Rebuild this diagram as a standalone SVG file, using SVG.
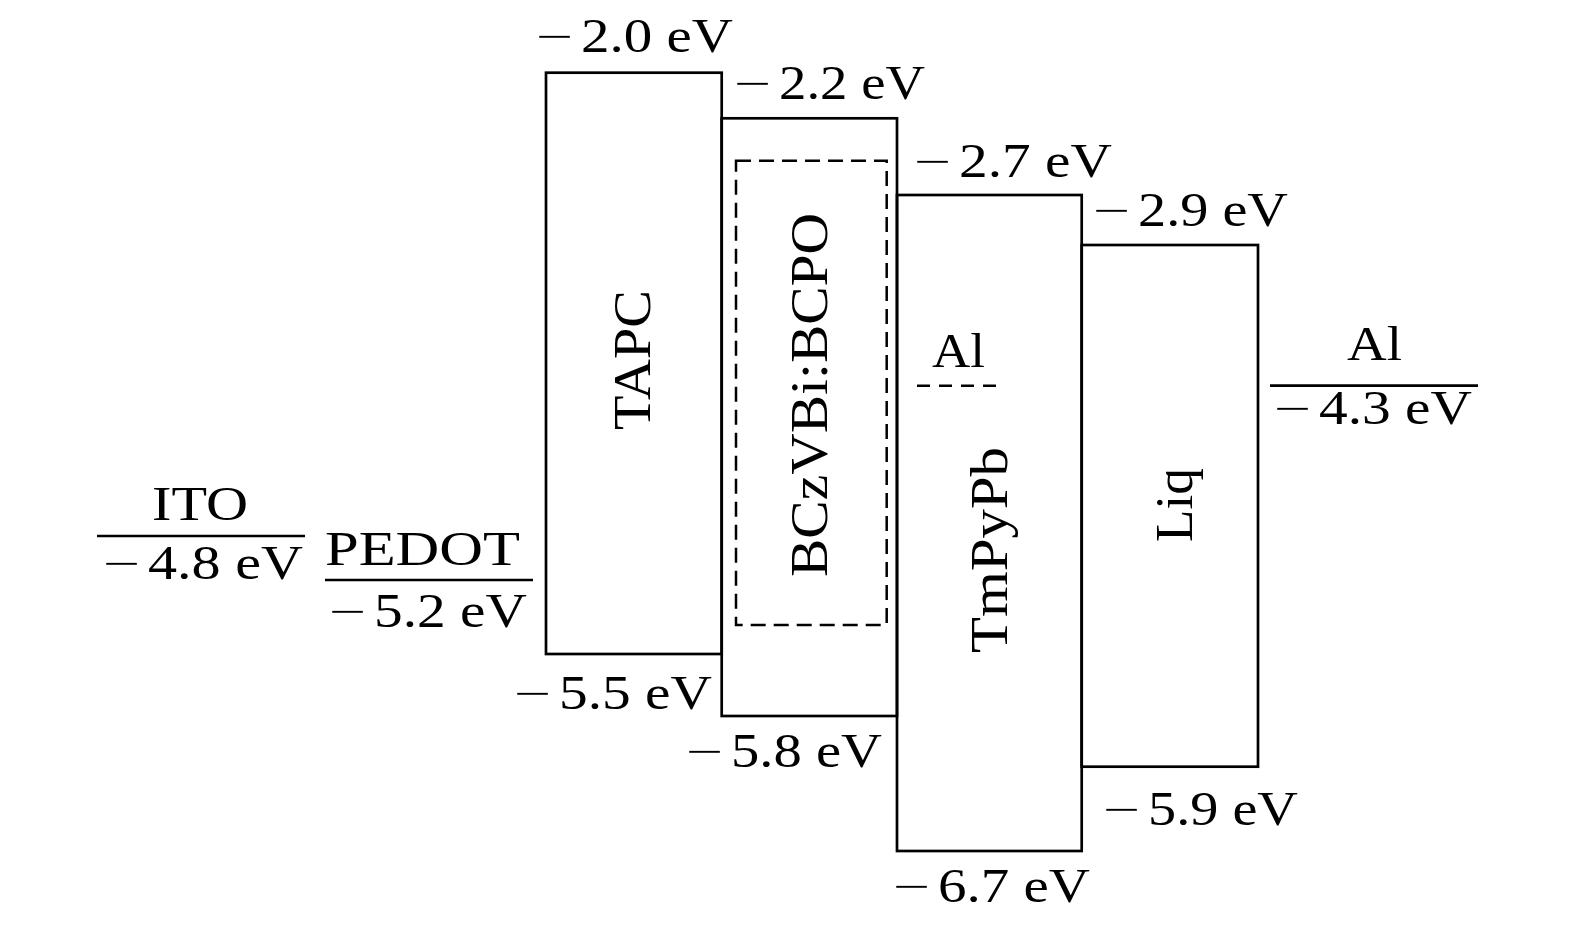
<svg xmlns="http://www.w3.org/2000/svg" width="1575" height="925" viewBox="0 0 1575 925">
<style>
.lbl{font-family:"Liberation Serif","Times New Roman",serif;font-size:49px;fill:#000}
.m{font-family:"DejaVu Sans","Liberation Sans",sans-serif;font-weight:200}
.rot{font-family:"Liberation Serif","Times New Roman",serif;font-size:53px;fill:#000;text-anchor:middle}
.box{fill:none;stroke:#000;stroke-width:2.7}
.lvl{stroke:#000;stroke-width:2.7}
.dash{fill:none;stroke:#000;stroke-width:2.5;stroke-dasharray:15 8}
</style>
<rect width="1575" height="925" fill="#fff"/>
<g id="ITO">
<line class="lvl" x1="97" y1="536" x2="305" y2="536"/>
<text class="lbl" x="152" y="520" textLength="96" lengthAdjust="spacingAndGlyphs">ITO</text>
<text class="lbl" y="579"><tspan class="m" x="101" textLength="41" lengthAdjust="spacingAndGlyphs">−</tspan><tspan x="148" textLength="155" lengthAdjust="spacingAndGlyphs">4.8 eV</tspan></text>
</g>
<g id="PEDOT">
<line class="lvl" x1="325" y1="580" x2="533" y2="580"/>
<text class="lbl" x="325" y="565" textLength="195" lengthAdjust="spacingAndGlyphs">PEDOT</text>
<text class="lbl" y="627"><tspan class="m" x="327" textLength="41" lengthAdjust="spacingAndGlyphs">−</tspan><tspan x="374" textLength="153" lengthAdjust="spacingAndGlyphs">5.2 eV</tspan></text>
</g>
<g id="TAPC">
<rect class="box" x="546" y="72.7" width="175.7" height="581.3"/>
<text class="rot" transform="translate(650,360) rotate(-90)" textLength="140" lengthAdjust="spacingAndGlyphs">TAPC</text>
<text class="lbl" y="51.7"><tspan class="m" x="534" textLength="41" lengthAdjust="spacingAndGlyphs">−</tspan><tspan x="581" textLength="152" lengthAdjust="spacingAndGlyphs">2.0 eV</tspan></text>
<text class="lbl" y="709"><tspan class="m" x="512" textLength="41" lengthAdjust="spacingAndGlyphs">−</tspan><tspan x="559" textLength="153" lengthAdjust="spacingAndGlyphs">5.5 eV</tspan></text>
</g>
<g id="BCzVBi">
<rect class="box" x="721.7" y="118.3" width="175.3" height="597.7"/>
<rect class="dash" x="736" y="160.7" width="150.7" height="464.3"/>
<text class="rot" transform="translate(827,395) rotate(-90)" textLength="364" lengthAdjust="spacingAndGlyphs">BCzVBi:BCPO</text>
<text class="lbl" y="99.3"><tspan class="m" x="732" textLength="41" lengthAdjust="spacingAndGlyphs">−</tspan><tspan x="779" textLength="146" lengthAdjust="spacingAndGlyphs">2.2 eV</tspan></text>
<text class="lbl" y="766.7"><tspan class="m" x="684" textLength="41" lengthAdjust="spacingAndGlyphs">−</tspan><tspan x="731" textLength="151" lengthAdjust="spacingAndGlyphs">5.8 eV</tspan></text>
</g>
<g id="TmPyPb">
<rect class="box" x="897" y="195" width="184.7" height="656"/>
<text class="rot" transform="translate(1006.7,550) rotate(-90)" textLength="206" lengthAdjust="spacingAndGlyphs">TmPyPb</text>
<text class="lbl" y="177"><tspan class="m" x="912" textLength="41" lengthAdjust="spacingAndGlyphs">−</tspan><tspan x="959" textLength="153" lengthAdjust="spacingAndGlyphs">2.7 eV</tspan></text>
<text class="lbl" y="901.7"><tspan class="m" x="891" textLength="41" lengthAdjust="spacingAndGlyphs">−</tspan><tspan x="938" textLength="152" lengthAdjust="spacingAndGlyphs">6.7 eV</tspan></text>
</g>
<g id="Al-inner">
<line class="dash" x1="917" y1="385.7" x2="999" y2="385.7" style="stroke-dasharray:13 9"/>
<text class="lbl" x="932" y="366.7" textLength="53" lengthAdjust="spacingAndGlyphs">Al</text>
</g>
<g id="Liq">
<rect class="box" x="1081.7" y="245" width="176.3" height="521.7"/>
<text class="rot" transform="translate(1191.7,505) rotate(-90)" textLength="74" lengthAdjust="spacingAndGlyphs">Liq</text>
<text class="lbl" y="226"><tspan class="m" x="1091" textLength="41" lengthAdjust="spacingAndGlyphs">−</tspan><tspan x="1138" textLength="150" lengthAdjust="spacingAndGlyphs">2.9 eV</tspan></text>
<text class="lbl" y="825"><tspan class="m" x="1101" textLength="41" lengthAdjust="spacingAndGlyphs">−</tspan><tspan x="1148" textLength="150" lengthAdjust="spacingAndGlyphs">5.9 eV</tspan></text>
</g>
<g id="Al">
<line class="lvl" x1="1270" y1="385.7" x2="1478" y2="385.7"/>
<text class="lbl" x="1347" y="360" textLength="55" lengthAdjust="spacingAndGlyphs">Al</text>
<text class="lbl" y="424"><tspan class="m" x="1272" textLength="41" lengthAdjust="spacingAndGlyphs">−</tspan><tspan x="1319" textLength="153" lengthAdjust="spacingAndGlyphs">4.3 eV</tspan></text>
</g>
<g id="connectors"></g>
</svg>
